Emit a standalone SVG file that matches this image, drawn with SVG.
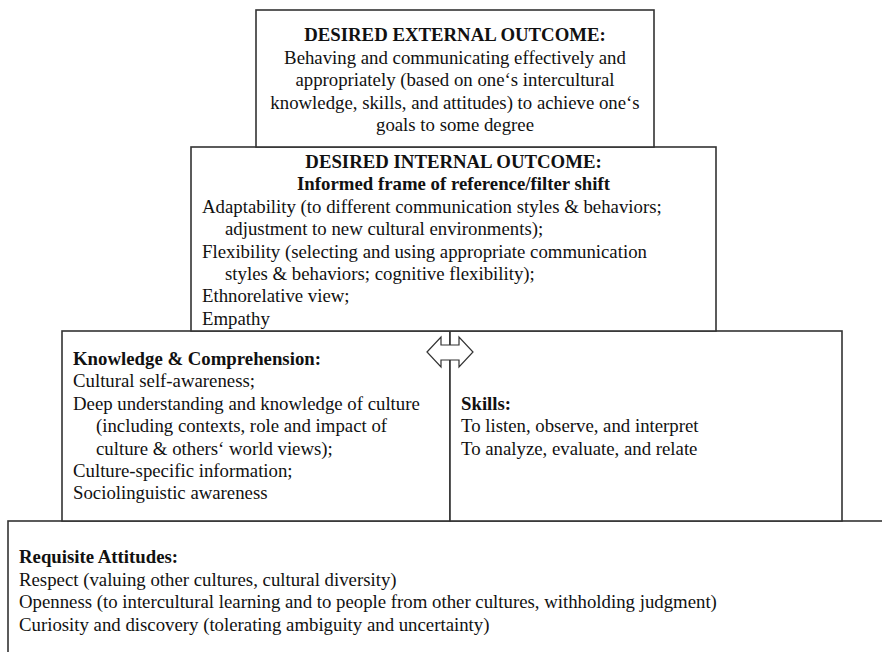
<svg xmlns="http://www.w3.org/2000/svg" width="882" height="652" viewBox="0 0 882 652">
<style>
.box{fill:#fff;stroke:#333;stroke-width:1.6}
text{font-family:"Liberation Serif","Times New Roman",serif;font-size:18.8px;fill:#111}
.b{font-weight:bold}
.c{text-anchor:middle}
.arrow{fill:#fff;stroke:#333;stroke-width:1.2;stroke-linejoin:miter}
</style>
<rect width="882" height="652" fill="#fff"/>
<g id="node-attitudes">
<rect class="box" x="8" y="521" width="900" height="200"/>
<text class="b" x="19" y="563">Requisite Attitudes:</text>
<text x="19" y="586">Respect (valuing other cultures, cultural diversity)</text>
<text x="19" y="608">Openness (to intercultural learning and to people from other cultures, withholding judgment)</text>
<text x="19" y="631">Curiosity and discovery (tolerating ambiguity and uncertainty)</text>
</g>
<g id="node-knowledge">
<rect class="box" x="62" y="331" width="388" height="190"/>
<text class="b" x="73" y="365">Knowledge &amp; Comprehension:</text>
<text x="73" y="387.4">Cultural self-awareness;</text>
<text x="73" y="409.8">Deep understanding and knowledge of culture</text>
<text x="96" y="432.2">(including contexts, role and impact of</text>
<text x="96" y="454.6">culture &amp; others‘ world views);</text>
<text x="73" y="477">Culture-specific information;</text>
<text x="73" y="499.4">Sociolinguistic awareness</text>
</g>
<g id="node-skills">
<rect class="box" x="450" y="331" width="392" height="190"/>
<text class="b" x="461" y="409.8">Skills:</text>
<text x="461" y="432.2">To listen, observe, and interpret</text>
<text x="461" y="454.6">To analyze, evaluate, and relate</text>
</g>
<g id="node-internal">
<rect class="box" x="191" y="147" width="525" height="184"/>
<text class="b c" x="453.5" y="168">DESIRED INTERNAL OUTCOME:</text>
<text class="b c" x="453.5" y="190.4">Informed frame of reference/filter shift</text>
<text x="202" y="212.8">Adaptability (to different communication styles &amp; behaviors;</text>
<text x="225" y="235.2">adjustment to new cultural environments);</text>
<text x="202" y="257.6">Flexibility (selecting and using appropriate communication</text>
<text x="225" y="280">styles &amp; behaviors; cognitive flexibility);</text>
<text x="202" y="302.4">Ethnorelative view;</text>
<text x="202" y="324.8">Empathy</text>
</g>
<g id="node-external">
<rect class="box" x="256" y="10" width="398" height="137"/>
<text class="b c" x="455" y="41">DESIRED EXTERNAL OUTCOME:</text>
<text class="c" x="455" y="63.5">Behaving and communicating effectively and</text>
<text class="c" x="455" y="86">appropriately (based on one‘s intercultural</text>
<text class="c" x="455" y="108.5">knowledge, skills, and attitudes) to achieve one‘s</text>
<text class="c" x="455" y="131">goals to some degree</text>
</g>
<g id="connectors">
<polygon class="arrow" points="427,352 441,337 441,345 459,345 459,337 473,352 459,367 459,360 441,360 441,367"/>
</g>
</svg>
